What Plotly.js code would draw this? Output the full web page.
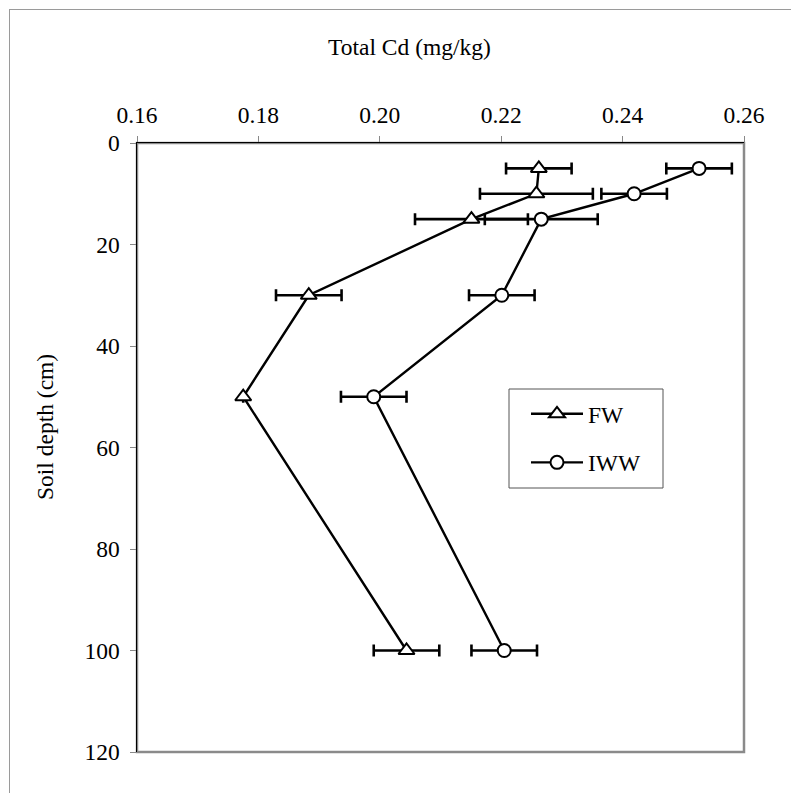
<!DOCTYPE html>
<html>
<head>
<meta charset="utf-8">
<script src="https://cdn.plot.ly/plotly-3.0.1.min.js"></script>
<style>
  html, body { margin: 0; padding: 0; background: #fff; overflow: hidden; }
  #frame { position: absolute; left: 9px; top: 9px; width: 900px; height: 900px;
           border: 1px solid #9a9a9a; box-sizing: border-box; }
  #chart { position: absolute; left: 0; top: 0; width: 791px; height: 793px; }
</style>
</head>
<body>
<div id="frame"></div>
<div id="chart"></div>
<script>
// Soil depth profile of total cadmium under two irrigation water sources
const depthCm = [5, 10, 15, 30, 50, 100];

const fwCd = [0.2262, 0.2258, 0.2151, 0.1883, 0.1775, 0.2044];
const fwErr = [0.0054, 0.0093, 0.0093, 0.0054, 0, 0.0054];

const iwwCd = [0.2526, 0.2419, 0.2266, 0.2201, 0.1990, 0.2205];
const iwwErr = [0.0054, 0.0054, 0.0093, 0.0054, 0.0054, 0.0054];

const xTicks = [0.16, 0.18, 0.20, 0.22, 0.24, 0.26];
const yTicks = [0, 20, 40, 60, 80, 100, 120];

const serif = "'Liberation Serif', 'Times New Roman', Times, serif";

// plot-area pixel geometry helpers (for placing titles and the legend frame)
const PL = 137, PR = 744, PT = 143, PB = 752;
const px = x => (x - PL) / (PR - PL);
const py = y => 1 - (y - PT) / (PB - PT);

function series(name, xs, errs, symbol, group) {
  return {
    type: 'scatter',
    mode: 'lines+markers',
    name: name,
    legendgroup: group,
    x: xs,
    y: depthCm,
    line: { color: '#000', width: 2.4 },
    marker: { symbol: symbol, size: symbol === 'circle' ? 13 : 14, color: '#fff',
              line: { color: '#000', width: 2 } },
    error_x: { type: 'data', array: errs, visible: true, color: '#000',
               thickness: 2.6, width: 6 },
    cliponaxis: false
  };
}

const data = [
  series('FW', fwCd, fwErr, 'triangle-up', 'a'),
  series('IWW', iwwCd, iwwErr, 'circle', 'b')
];

const layout = {
  width: 791,
  height: 793,
  margin: { l: PL, r: 791 - PR, t: PT, b: 793 - PB },
  paper_bgcolor: 'rgba(0,0,0,0)',
  plot_bgcolor: '#fff',
  font: { family: serif, size: 23.5, color: '#000' },
  showlegend: true,
  legend: {
    x: px(526), y: py(392), xanchor: 'left', yanchor: 'top',
    borderwidth: 0, bgcolor: 'rgba(0,0,0,0)',
    font: { family: serif, size: 23.5, color: '#000' },
    traceorder: 'grouped', tracegroupgap: 15, itemwidth: 52
  },
  xaxis: {
    side: 'top',
    range: [0.16, 0.26],
    tickvals: xTicks,
    ticktext: xTicks.map(v => v.toFixed(2)),
    ticks: 'outside', ticklen: 6, tickcolor: '#888', tickwidth: 1,
    ticklabelstandoff: 3,
    showline: true, linecolor: '#000', linewidth: 1.5,
    showgrid: false, zeroline: false, fixedrange: true
  },
  yaxis: {
    range: [120, 0],
    tickvals: yTicks,
    ticks: 'outside', ticklen: 6, tickcolor: '#888', tickwidth: 1,
    ticklabelstandoff: 5,
    showline: true, linecolor: '#000', linewidth: 1.5,
    showgrid: false, zeroline: false, fixedrange: true
  },
  shapes: [
    { type: 'rect', xref: 'paper', yref: 'paper', x0: 0, x1: 1, y0: 0, y1: 1,
      line: { color: '#8a8a8a', width: 2.5 }, layer: 'below' },
    // legend frame
    { type: 'rect', xref: 'paper', yref: 'paper', x0: px(509), x1: px(663), y0: py(488), y1: py(389),
      line: { color: '#555', width: 1 }, fillcolor: '#fff', layer: 'below' }
  ],
  annotations: [
    { text: 'Total Cd (mg/kg)', xref: 'paper', yref: 'paper',
      x: px(409), y: py(47), xanchor: 'center', yanchor: 'middle',
      showarrow: false, font: { family: serif, size: 23.5 } },
    { text: 'Soil depth (cm)', xref: 'paper', yref: 'paper', textangle: -90,
      x: px(45), y: py(427), xanchor: 'center', yanchor: 'middle',
      showarrow: false, font: { family: serif, size: 23.5 } }
  ]
};

Plotly.newPlot('chart', data, layout, { displayModeBar: false, staticPlot: true });
</script>
</body>
</html>
